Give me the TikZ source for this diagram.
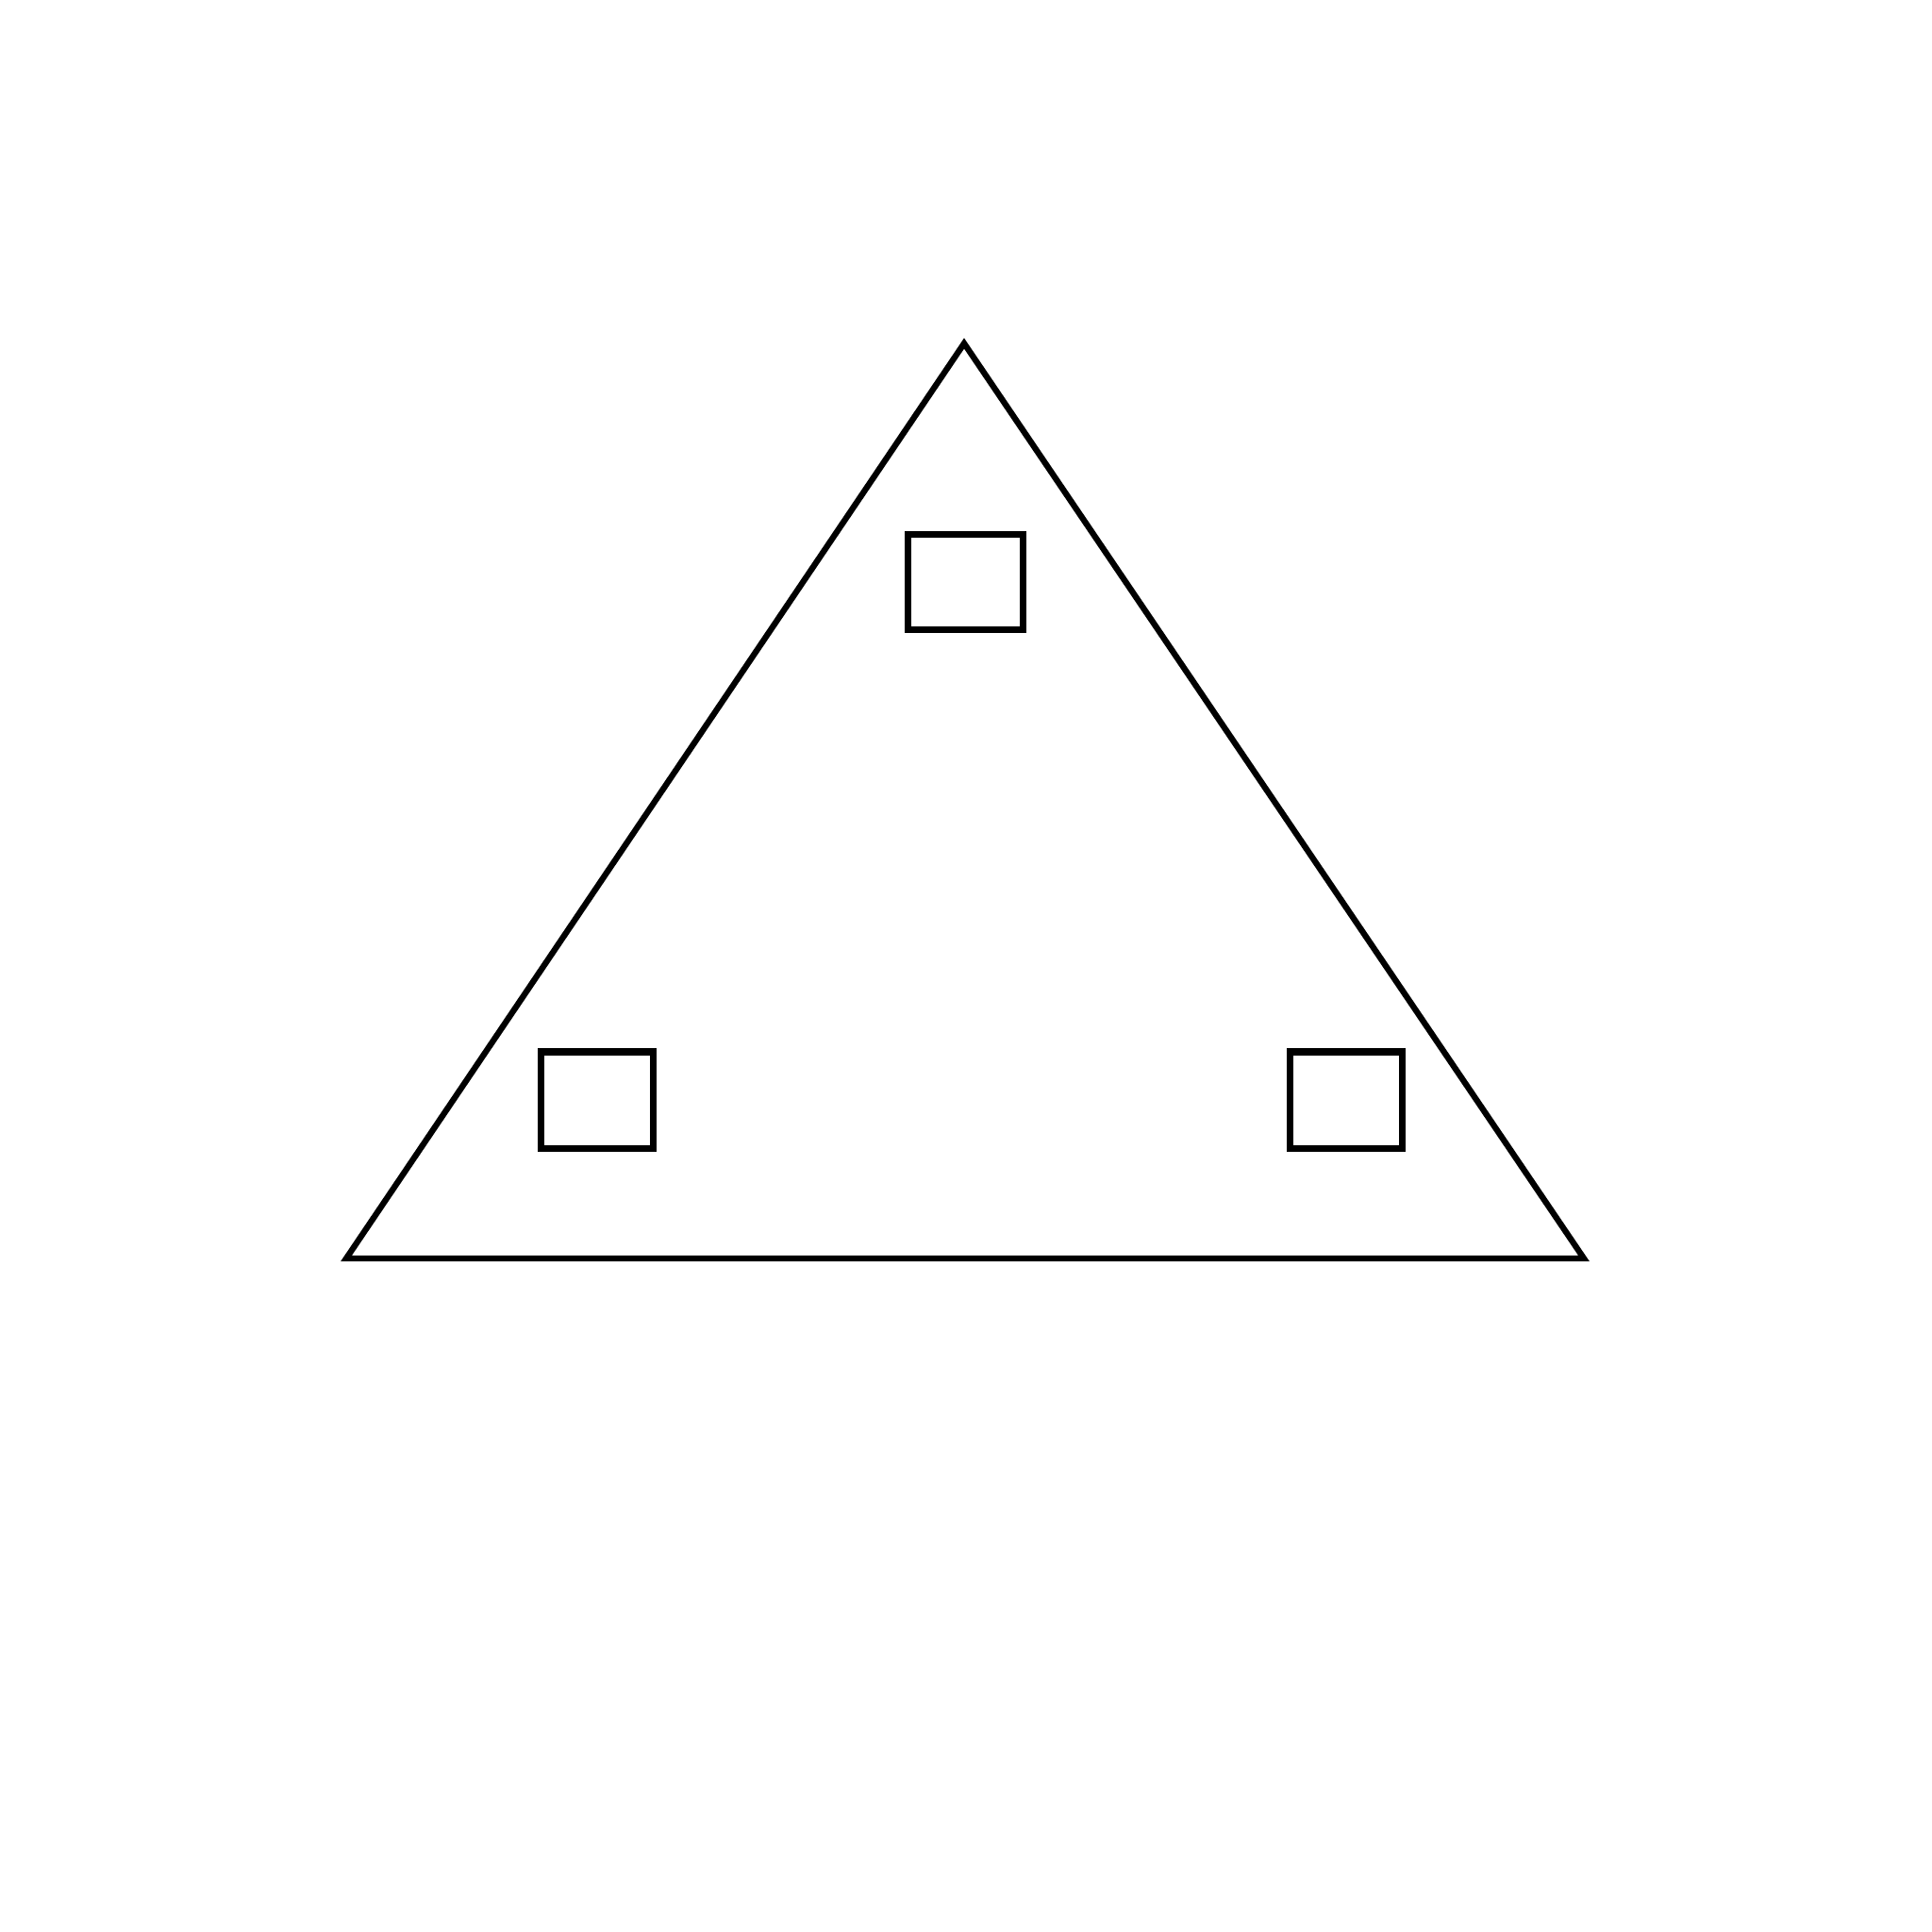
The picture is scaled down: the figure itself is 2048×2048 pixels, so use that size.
\documentclass[tikz,border=0pt]{standalone}
\begin{document}
\begin{tikzpicture}[x=0.01cm,y=-0.01cm,
  tri/.style={draw=black,line width=1.8pt,line join=miter},
  box/.style={draw=black,line width=2pt}]
\useasboundingbox (0,0) rectangle (2048,2048);
\fill[white] (0,0) rectangle (2048,2048);
\coordinate (A) at (1022,364);
\coordinate (B) at (367,1334);
\coordinate (C) at (1679,1334);
\draw[tri] (A) -- (B) -- (C) -- cycle;
\node[box,minimum width=1.21cm,minimum height=1.0cm,inner sep=0pt] (t) at (1023.5,617) {};
\node[box,minimum width=1.18cm,minimum height=1.02cm,inner sep=0pt] (l) at (633,1166) {};
\node[box,minimum width=1.18cm,minimum height=1.02cm,inner sep=0pt] (r) at (1427,1166) {};
\end{tikzpicture}
\end{document}
